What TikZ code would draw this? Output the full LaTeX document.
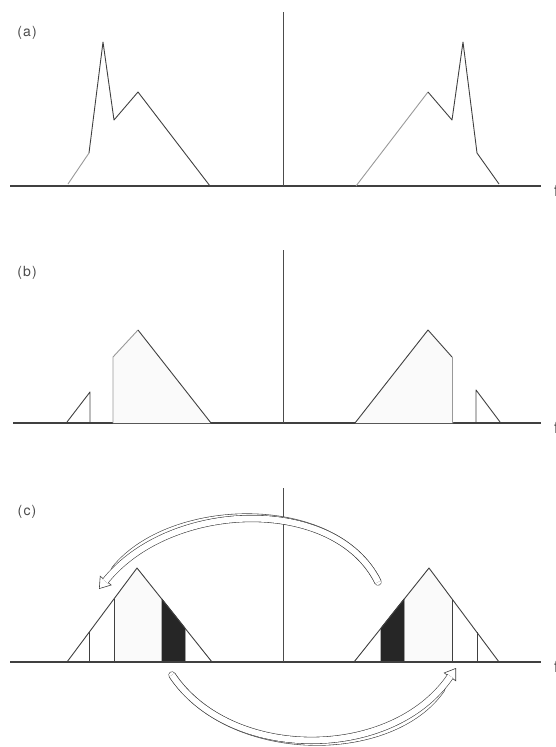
\documentclass[tikz,border=0pt]{standalone}
\usepackage{fontspec}
\setmainfont{TeX Gyre Heros}
\usetikzlibrary{arrows.meta}
\begin{document}
\begin{tikzpicture}[x=1pt,y=-1pt,
  axis/.style={line width=1.4pt, draw=black!75},
  cline/.style={line width=0.7pt, draw=black!70},
  spec/.style={line width=0.9pt, draw=black!75, line join=round},
  faint/.style={line width=0.9pt, draw=black!40},
  lbl/.style={font=\fontsize{14}{16}\selectfont\addfontfeature{LetterSpace=8}, text=black!70, inner sep=0pt},
  flbl/.style={font=\fontsize{16}{18}\selectfont, text=black!75, inner sep=0pt, anchor=base west},
  darkfill/.style={fill=black!85, draw=black!85, line width=0.6pt},
  lightfill/.style={fill=black!2, draw=none},
  bandround/.style={line width=0.6pt, draw=black!75, double=white, double distance=6pt, line cap=round},
  bandbutt/.style={line width=0.6pt, draw=black!75, double=white, double distance=6pt, line cap=butt},
  headline/.style={line width=0.6pt, draw=black!75, -{Triangle[length=11pt,width=15pt,fill=white,line width=0.6pt]}},
]
\useasboundingbox (0,0) rectangle (556,747);

% ---------- panel (a) ----------
\node[lbl] (la) at (27,33) {(a)};
\draw[axis] (10,186) -- (541,186);
\draw[cline] (283,12) -- (283,186);
\draw[faint] (68,184) -- (89,153);
\draw[spec] (89,153) -- (103,42) -- (114,120) -- (138,92) -- (210,186);
\draw[faint] (356,186) -- (428,92);
\draw[spec] (428,92) -- (452,120) -- (463,42) -- (477,153) -- (499,184);
\node[flbl] (fa) at (554,196) {f};

% ---------- panel (b) ----------
\node[lbl] (lb) at (27,273) {(b)};
\draw[axis] (13,423) -- (541,423);
\draw[cline] (283,250) -- (283,423);
\fill[lightfill] (113,423) -- (113,357) -- (138,330) -- (211,423) -- cycle;
\fill[lightfill] (453,423) -- (453,357) -- (428,330) -- (355,423) -- cycle;
\draw[spec] (67,422) -- (90,392) -- (90,423);
\draw[faint] (113,423) -- (113,357) -- (138,330);
\draw[spec] (138,330) -- (211,423);
\draw[spec] (355,423) -- (428,330) -- (452,357);
\draw[faint] (452,357) -- (452,423);
\draw[spec] (476,423) -- (476,390) -- (500,422);
\node[flbl] (fb) at (554,433) {f};

% ---------- panel (c) ----------
\node[lbl] (lc) at (27,512) {(c)};
\fill[lightfill] (114,662) -- (114,599) -- (137,568) -- (162,599) -- (162,662) -- cycle;
\fill[lightfill] (452,662) -- (452,599) -- (429,568) -- (404,599) -- (404,662) -- cycle;
\fill[darkfill] (162,662) -- (162,599) -- (185,628) -- (185,662) -- cycle;
\fill[darkfill] (404,662) -- (404,599) -- (381,628) -- (381,662) -- cycle;
\draw[axis] (10,662) -- (541,662);
\draw[cline] (283,488) -- (283,662);
\draw[spec] (67,662) -- (137,568) -- (212,662);
\draw[spec] (354,662) -- (429,568) -- (499,662);
\draw[spec] (89,662) -- (89,632);
\draw[spec] (114,662) -- (114,599);
\draw[spec] (477,662) -- (477,632);
\draw[spec] (452,662) -- (452,599);
\node[flbl] (fc) at (554,672) {f};

% upper hollow arrow (right to left)
\draw[headline] (378,582) .. controls (335,495) and (170,500) .. (99,589);
\draw[bandround, shorten >=25pt] (378,582) .. controls (335,495) and (170,500) .. (99,589);
\draw[bandbutt, shorten >=10pt] (378,582) .. controls (335,495) and (170,500) .. (99,589);

% lower hollow arrow (left to right)
\draw[headline] (172,675) .. controls (230,762) and (392,762) .. (456,668);
\draw[bandround, shorten >=25pt] (172,675) .. controls (230,762) and (392,762) .. (456,668);
\draw[bandbutt, shorten >=10pt] (172,675) .. controls (230,762) and (392,762) .. (456,668);
\end{tikzpicture}
\end{document}
